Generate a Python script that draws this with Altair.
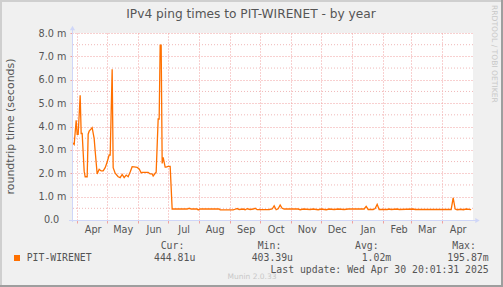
import altair as alt
import pandas as pd

# ---------------- data ----------------
dates = [
    "2024-03-27", "2024-03-29", "2024-03-31", "2024-04-01", "2024-04-02", "2024-04-04",
    "2024-04-05", "2024-04-06", "2024-04-08", "2024-04-09", "2024-04-11", "2024-04-12",
    "2024-04-13", "2024-04-15", "2024-04-16", "2024-04-18", "2024-04-19", "2024-04-21",
    "2024-04-23", "2024-04-25", "2024-04-27", "2024-04-29", "2024-05-01", "2024-05-03",
    "2024-05-04", "2024-05-06", "2024-05-07", "2024-05-09", "2024-05-12", "2024-05-14",
    "2024-05-16", "2024-05-18", "2024-05-20", "2024-05-22", "2024-05-24", "2024-05-26",
    "2024-05-28", "2024-05-31", "2024-06-02", "2024-06-04", "2024-06-05", "2024-06-09",
    "2024-06-11", "2024-06-13", "2024-06-15", "2024-06-16", "2024-06-18", "2024-06-19",
    "2024-06-21", "2024-06-22", "2024-06-23", "2024-06-24", "2024-06-25", "2024-06-26",
    "2024-06-28", "2024-06-29", "2024-07-01", "2024-07-03", "2024-07-05",
    "2024-07-20", "2024-07-22", "2024-07-24", "2024-07-30", "2024-07-31", "2024-08-02",
    "2024-08-21", "2024-08-22", "2024-09-04", "2024-09-06", "2024-09-08", "2024-09-10",
    "2024-09-14", "2024-09-16", "2024-09-18", "2024-09-21", "2024-09-24", "2024-09-26",
    "2024-09-28", "2024-10-06", "2024-10-10", "2024-10-13", "2024-10-15", "2024-10-17",
    "2024-10-19", "2024-10-21", "2024-10-23", "2024-10-25", "2024-11-08", "2024-11-10",
    "2024-11-13", "2024-11-20", "2024-11-23", "2024-11-28", "2024-12-01", "2024-12-06",
    "2024-12-09", "2024-12-14", "2024-12-18", "2024-12-24", "2024-12-28", "2025-01-10",
    "2025-01-13", "2025-01-15", "2025-01-17", "2025-01-22", "2025-01-24", "2025-01-26",
    "2025-01-28", "2025-02-05", "2025-02-07", "2025-02-09", "2025-02-15", "2025-02-17",
    "2025-03-03", "2025-03-05", "2025-04-10", "2025-04-12", "2025-04-14", "2025-04-16",
    "2025-04-20", "2025-04-22", "2025-04-25", "2025-04-30",
]
rtt_ms = [
    3.32, 3.23, 4.27, 3.66, 3.66, 5.34,
    3.70, 3.70, 2.09, 1.85, 1.85, 3.67,
    3.80, 3.90, 3.95, 3.48, 2.95, 1.97,
    2.17, 2.10, 2.10, 2.24, 2.48, 2.78,
    2.78, 6.45, 2.24, 2.00, 1.85, 1.81,
    1.95, 1.81, 1.92, 1.85, 2.05, 2.28,
    2.27, 2.25, 2.18, 2.02, 2.04, 2.04,
    2.04, 1.97, 1.97, 1.88, 2.00, 2.04,
    4.32, 4.32, 7.48, 7.48, 2.42, 2.68,
    2.26, 2.26, 2.29, 2.29, 0.47,
    0.47, 0.50, 0.47, 0.47, 0.43, 0.47,
    0.47, 0.43, 0.43, 0.46, 0.49, 0.45,
    0.47, 0.44, 0.48, 0.45, 0.47, 0.50,
    0.44, 0.44, 0.45, 0.47, 0.61, 0.44,
    0.48, 0.64, 0.50, 0.47, 0.47, 0.44,
    0.47, 0.45, 0.47, 0.44, 0.47, 0.44,
    0.47, 0.45, 0.47, 0.45, 0.47, 0.47,
    0.47, 0.58, 0.45, 0.45, 0.49, 0.67,
    0.45, 0.45, 0.47, 0.45, 0.47, 0.45,
    0.47, 0.45, 0.45, 0.95, 0.47, 0.44,
    0.46, 0.44, 0.47, 0.44,
]

y_ticks = [1, 2, 3, 4, 5, 6, 7, 8]
y_zero_label = "0.0"
y_minor = [0.5, 1.5, 2.5, 3.5, 4.5, 5.5, 6.5, 7.5]
month_ticks = [(2024, 4), (2024, 5), (2024, 6), (2024, 7), (2024, 8), (2024, 9),
               (2024, 10), (2024, 11), (2024, 12), (2025, 1), (2025, 2), (2025, 3),
               (2025, 4)]

title_text = "IPv4 ping times to PIT-WIRENET - by year"
y_title = "roundtrip time (seconds)"
series_name = "PIT-WIRENET"
stat_names = ["Cur:", "Min:", "Avg:", "Max:"]
stat_values = ["444.81u", "403.39u", "1.02m", "195.87m"]
last_update = "Last update: Wed Apr 30 20:01:31 2025"
credit = "Munin 2.0.33"
watermark = "RRDTOOL / TOBI OETIKER"

# ---------------- styling ----------------
SANS = "DejaVu Sans"
MONO = "DejaVu Sans Mono"
FG = "#555555"
ORANGE = "#FF7000"
GRID_MAJOR = "#F0A0A0"
GRID_MINOR = "#F0B8B8"
AXIS = "#CFD6F8"
BG = "#F0F0F0"

df = pd.DataFrame({"date": pd.to_datetime(dates), "rtt": rtt_ms})

x_scale = alt.Scale(domain=[alt.DateTime(year=2024, month=3, date=26, hours=20),
                            alt.DateTime(year=2025, month=5, date=1, hours=20)])
y_scale = alt.Scale(domain=[0, 8], nice=False, zero=True)

y_axis = alt.Axis(
    values=y_ticks, labelExpr="datum.label + ' m'", format=".1f",
    labelFont=SANS, labelFontSize=9.7,
    labelColor=FG, labelPadding=4, tickSize=2, tickColor=GRID_MAJOR,
    grid=True, gridColor=GRID_MAJOR, gridDash=[1, 2], domain=False,
    title=None, labelOverlap=False, labelFlush=False, labelBound=False)

one = pd.DataFrame({"a": [0]})


def label(text, x, y, size=9.8, font=MONO, color=FG, align="left",
          baseline="alphabetic", angle=0):
    return alt.Chart(pd.DataFrame({"t": [text]})).mark_text(
        align=align, baseline=baseline, font=font, fontSize=size, color=color, angle=angle
    ).encode(x=alt.value(x), y=alt.value(y), text="t:N")


def rule(x1, y1, x2, y2, color, width):
    return alt.Chart(one).mark_rule(color=color, strokeWidth=width).encode(
        x=alt.value(x1), x2=alt.value(x2), y=alt.value(y1), y2=alt.value(y2))


minor = alt.Chart(pd.DataFrame({"v": y_minor})).mark_rule(
    color=GRID_MINOR, strokeDash=[1, 2], strokeWidth=1
).encode(y=alt.Y("v:Q", scale=y_scale, axis=y_axis))

line = alt.Chart(df).mark_line(color=ORANGE, strokeWidth=1.3).encode(
    x=alt.X("date:T", scale=x_scale, axis=alt.Axis(
        values=[alt.DateTime(year=y, month=m, date=1) for (y, m) in month_ticks],
        format="%b", labelOffset=15.5, labelFont=SANS, labelFontSize=9.7,
        labelColor=FG, labelPadding=9.5, labelBaseline="alphabetic",
        tickColor=GRID_MAJOR, tickSize=3, domain=False, grid=True,
        gridColor=GRID_MAJOR, gridDash=[1, 2], title=None,
        labelOverlap=False, labelFlush=False, labelBound=False)),
    y=alt.Y("rtt:Q", scale=y_scale, axis=y_axis),
)

axis_y = rule(0.5, -5, 0.5, 189, AXIS, 1)
axis_x = rule(-3, 187.5, 404, 187.5, AXIS, 1)
arrow_y = alt.Chart(one).mark_point(shape="triangle-up", filled=True, size=26,
                                    color=AXIS, opacity=1).encode(
    x=alt.value(0.5), y=alt.value(-5))
arrow_x = alt.Chart(one).mark_point(shape="triangle-right", filled=True, size=26,
                                    color=AXIS, opacity=1).encode(
    x=alt.value(405.5), y=alt.value(187.5))

texts = [
    label(title_text, 179, -15.2, size=12.2, font=SANS, align="center"),
    label(y_title, -60.8, 93.5, size=11, font=SANS, align="center",
          baseline="middle", angle=270),
    label(y_zero_label, -12.7, 187, size=9.7, font=SANS, align="right",
          baseline="middle"),
    label(watermark, 422, -28, size=7.6, font=SANS, color="#C8C8C8",
          baseline="middle", angle=90),
    label(series_name, -45.3, 227.7),
    label(stat_names[0], 88.7, 216),
    label(stat_values[0], 82, 227.7),
    label(stat_names[1], 185.7, 216),
    label(stat_values[1], 179.7, 227.7),
    label(stat_names[2], 283, 216),
    label(stat_values[2], 289.7, 227.7),
    label(stat_names[3], 380.3, 216),
    label(stat_values[3], 375.3, 227.7),
    label(last_update, 416.7, 239.7, align="right"),
    label(credit, 180, 246, size=7.5, font=SANS, color="#C8C8C8", align="center"),
]

swatch = alt.Chart(one).mark_rect(color=ORANGE).encode(
    x=alt.value(-58), x2=alt.value(-52), y=alt.value(222), y2=alt.value(228))

borders = [
    rule(-72, -32, 431, -32, "#CFCFCF", 2),
    rule(-71, -33, -71, 254, "#CFCFCF", 2),
    rule(-72, 253, 431, 253, "#9E9E9E", 2),
    rule(430, -33, 430, 254, "#9E9E9E", 2),
]

chart = alt.layer(
    minor, line, axis_y, axis_x, arrow_y, arrow_x, swatch, *texts, *borders
).properties(
    width=401, height=187,
    padding={"left": 72, "top": 33, "right": 30, "bottom": 67},
    autosize=alt.AutoSizeParams(type="none"),
    background=BG,
).configure_view(fill="white", strokeWidth=0)

chart.save("out.html", embed_options={"renderer": "svg", "actions": False})
